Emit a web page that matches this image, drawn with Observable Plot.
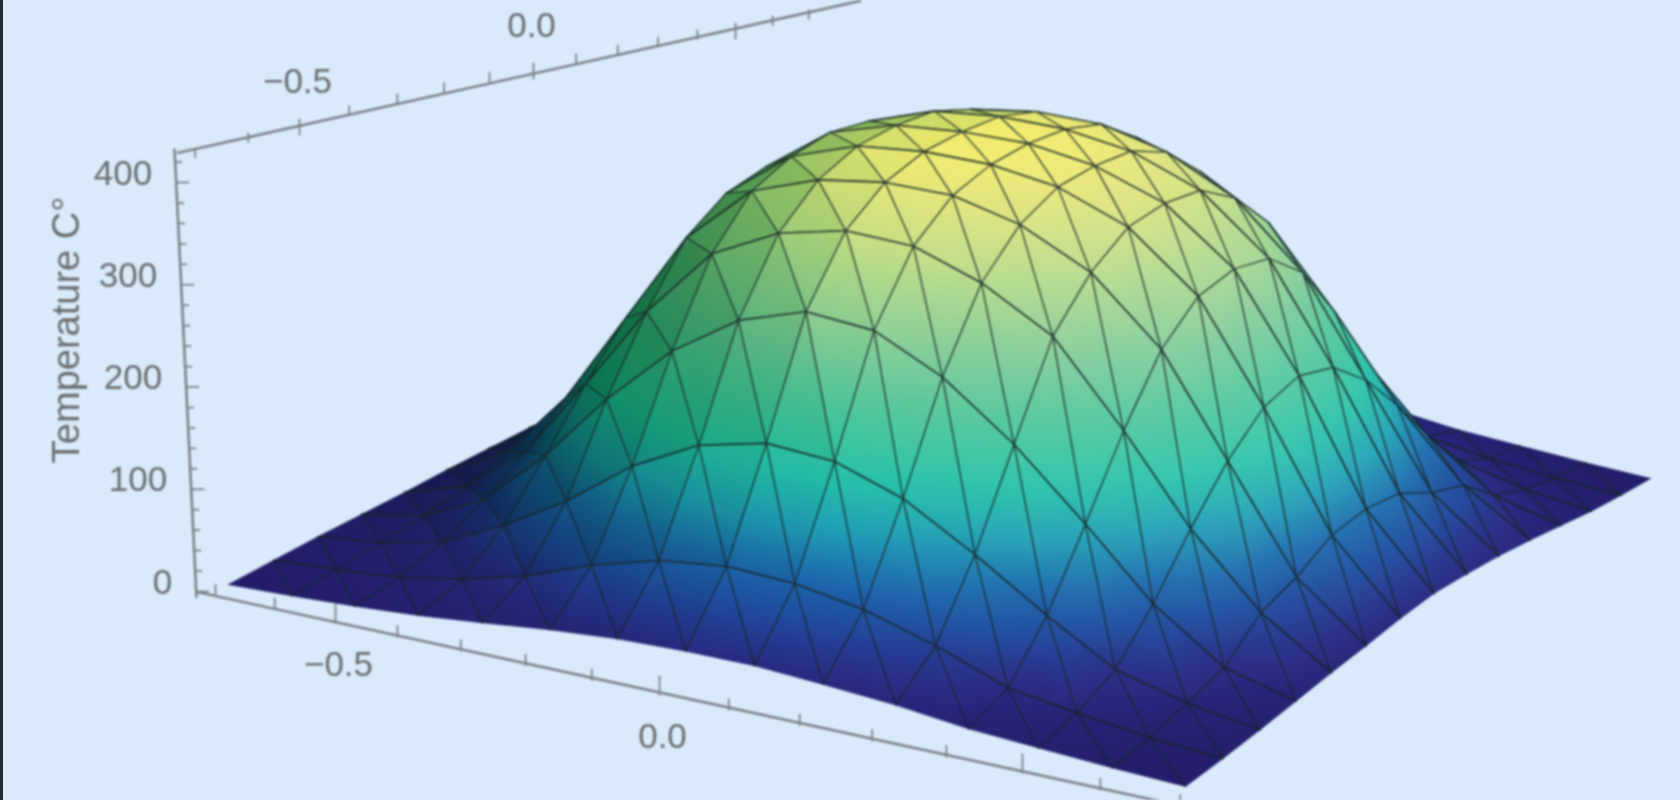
<!DOCTYPE html>
<html><head><meta charset="utf-8">
<script src="https://cdn.jsdelivr.net/npm/d3@7"></script>
<script src="https://cdn.jsdelivr.net/npm/@observablehq/plot@0.6"></script>
<style>
html,body{margin:0;padding:0;width:1680px;height:800px;overflow:hidden;background:#d9ebfa;box-shadow:inset 3px 0 0 #1d2b33}
</style></head><body><div id="chart"></div>
<script>
// Surface node positions and temperatures
const xNodes = [-0.7,-0.605,-0.51,-0.415,-0.32,-0.22,-0.12,-0.02,0.08,0.18,0.285,0.39,0.49,0.595,0.7];
const yNodes = [-0.7,-0.6,-0.5,-0.4,-0.3,-0.2,-0.1,0,0.1,0.2,0.3,0.4,0.5,0.6,0.7];
const temperature = [
 [0,2,5,9,15,22,27,29,29,25,20,12,8,4,1],
 [2,6,11,22,38,62,80,88,85,74,54,28,18,9,4],
 [4,11,24,53,89,136,169,184,180,158,119,75,37,19,8],
 [5,16,45,100,167,226,268,289,284,253,203,141,78,31,13],
 [6,25,72,150,232,300,332,347,345,323,286,210,129,62,18],
 [8,38,105,195,285,342,365,375,375,360,328,268,174,75,22],
 [9,44,128,226,310,358,380,387,387,378,353,300,206,95,27],
 [10,46,135,235,318,364,383,389,390,381,358,308,217,100,30],
 [9,44,128,226,310,358,380,387,387,378,353,300,206,95,28],
 [8,38,105,195,285,342,365,375,375,360,328,268,174,75,25],
 [6,25,72,150,232,300,332,347,345,323,286,210,129,62,20],
 [5,16,45,100,167,226,268,289,284,253,203,141,78,31,14],
 [4,10,22,48,80,122,152,165,162,142,107,67,33,17,8],
 [2,6,10,19,32,52,68,74,72,62,45,24,15,8,4],
 [0,2,5,9,15,22,27,29,29,25,20,12,8,4,1]
];
const xMajor = [-0.5,0,0.5];
const xMinor = [-0.7,-0.6,-0.4,-0.3,-0.2,-0.1,0.1,0.2,0.3,0.4,0.6,0.7];
const yMajor = [-0.5,0,0.5];
const yMinor = [-0.7,-0.6,-0.4,-0.3,-0.2,-0.1,0.1,0.2,0.3,0.4,0.6,0.7];
const zMajor = [0,100,200,300,400];
const zMinor = [20,40,60,80,120,140,160,180,220,240,260,280,320,340,360,380,420];
const colorT = [0,35,65,95,130,170,220,270,320,370,395];
const colorV = ["#241c69","#2a2c86","#1f4c9e","#1c6bae","#1f9eb5","#25c2a8","#4cc59a","#7fcb96","#aed88a","#e0e47a","#f7ee6a"];
const zTitle = "Temperature C°";
const minus = "\u2212";

// Camera: a perspective map of (x, y, z) fitted to the four corners of the surface
const half = 0.7;
const cL=[228,584], cF=[1185,787], cR=[1650,479], cB=[794,308];
const vanish=[950,16000], eZ=-6.4e-5;
const H=(()=>{const [x0,y0]=cL,[x1,y1]=cF,[x2,y2]=cR,[x3,y3]=cB;
 const dx1=x1-x2,dx2=x3-x2,sx=x0-x1+x2-x3,dy1=y1-y2,dy2=y3-y2,sy=y0-y1+y2-y3,det=dx1*dy2-dx2*dy1;
 const g=(sx*dy2-dx2*sy)/det,h=(dx1*sy-sx*dy1)/det;
 return {a:x1-x0+g*x1,b:x3-x0+h*x3,c:x0,d:y1-y0+g*y1,e:y3-y0+h*y3,f:y0,g,h};})();
function proj(x,y,z){
 const u=(x+half)/(2*half),v=(y+half)/(2*half);
 const X=H.a*u+H.b*v+H.c,Y=H.d*u+H.e*v+H.f,W=H.g*u+H.h*v+1;
 const k=eZ*z*(H.g*.5+H.h*.5+1);
 return [(X+k*vanish[0])/(W+k),(Y+k*vanish[1])/(W+k)];
}
const ramp=d3.scaleLinear().domain(colorT).range(colorV).clamp(true);
const light=(()=>{const l=[0.75,-0.2,0.6],n=Math.hypot(...l);return l.map(d=>d/n);})();
function shade(col,s,t){
 const f=0.62+0.68*s,c=d3.rgb(col);
 if(f<=1) return d3.rgb(c.r*Math.pow(f,1.7),c.g*Math.pow(f,.75),c.b*Math.pow(f,1.1)).formatRgb();
 const w=Math.min(.14,(f-1)*.35)*Math.min(1,t/200);
 return d3.rgb(c.r+(255-c.r)*w,c.g+(255-c.g)*w,c.b+(255-c.b)*w).formatRgb();
}

// Triangles of the mesh, back to front
const tris=[];
const n=xNodes.length;
for(let j=0;j<n-1;j++)for(let i=0;i<n-1;i++){
 tris.push([[i,j],[i+1,j],[i,j+1]]);
 tris.push([[i+1,j+1],[i,j+1],[i+1,j]]);
}
const node=([i,j])=>({x:xNodes[i],y:yNodes[j],t:temperature[j][i],i,j});
const depth=t=>d3.sum(t,([i,j])=>xNodes[i]-yNodes[j]);
tris.sort((a,b)=>depth(a)-depth(b));
// light on a node, from the slopes around it
function nodeLight(i,j){
 const i0=Math.max(0,i-1),i1=Math.min(n-1,i+1),j0=Math.max(0,j-1),j1=Math.min(n-1,j+1);
 const sl=.8/420;
 const dx=(temperature[j][i1]-temperature[j][i0])*sl/(xNodes[i1]-xNodes[i0]);
 const dy=(temperature[j1][i]-temperature[j0][i])*sl/(yNodes[j1]-yNodes[j0]);
 const m=Math.hypot(dx,dy,1);
 return (-dx*light[0]-dy*light[1]+light[2])/m;
}

const pts=[];
const defs=d3.create("svg:defs");
tris.forEach((tri,id)=>{
 const N=tri.map(node),P=N.map(d=>proj(d.x,d.y,d.t));
 const s=d3.mean(N,d=>nodeLight(d.i,d.j));
 const e1=[P[1][0]-P[0][0],P[1][1]-P[0][1]],e2=[P[2][0]-P[0][0],P[2][1]-P[0][1]];
 const d1=N[1].t-N[0].t,d2=N[2].t-N[0].t,D=e1[0]*e2[1]-e1[1]*e2[0];
 const gx=(d1*e2[1]-d2*e1[1])/D,gy=(e1[0]*d2-e2[0]*d1)/D,g2=gx*gx+gy*gy;
 const tmin=d3.min(N,d=>d.t),tmax=d3.max(N,d=>d.t);
 const lg=defs.append("svg:linearGradient").attr("id","g"+id).attr("gradientUnits","userSpaceOnUse");
 if(g2>1e-9&&tmax>tmin){
  lg.attr("x1",P[0][0]+gx*(tmin-N[0].t)/g2).attr("y1",P[0][1]+gy*(tmin-N[0].t)/g2)
    .attr("x2",P[0][0]+gx*(tmax-N[0].t)/g2).attr("y2",P[0][1]+gy*(tmax-N[0].t)/g2);
 }
 const ns=Math.max(2,Math.ceil((tmax-tmin)/20)+1);
 for(let k=0;k<ns;k++){
  const o=k/(ns-1),t=tmin+(tmax-tmin)*o;
  lg.append("svg:stop").attr("offset",o).attr("stop-color",shade(ramp(t),s,t));
 }
 const fill=`url(#g${id})`;
 [0,1,2,0].forEach(q=>pts.push({px:P[q][0],py:P[q][1],z:id+"f",fill,stroke:fill,w:0.7}));
 [[0,1],[1,2],[2,0]].forEach(([p,q],e)=>{
  const A=N[p],B=N[q];
  const border=(A.i===B.i&&(A.i===0||A.i===n-1))||(A.j===B.j&&(A.j===0||A.j===n-1));
  if(border) return;
  const alongX=A.j===B.j;
  [A,B].forEach((d,m)=>{const r=m?P[q]:P[p];pts.push({px:r[0],py:r[1],z:id+"e"+e,fill:"none",stroke:"rgba(24,38,40,0.85)",w:alongX?1.6:1.2});});
 });
});

// Axes: each one is a perspective ruler through three of its ticks as seen in the picture
function ruler(vals,pos){
 const [v0,,v2]=vals,[p0,p1,p2]=pos;
 const c=(2*p1-p0-p2)/(v2*p2+v0*p0);
 const a=(p2*(1+c*v2)-p1)/v2;
 return v=>(a*v+p1)/(c*v+1);
}
const vs=[-0.5,0,0.5];
const fx=ruler(vs,[335,659,1022]),fy=ruler(vs,[623,695,773]);
const tx=ruler(vs,[299,533,735]),ty=ruler(vs,[118,62,22]);
const zy=t=>591-1.0225*t, zx=t=>174+(zy(t)-148)*0.049;
const corner=-0.733, zBase=-6, zTop=433;
const link=(p,q)=>({x1:p[0],y1:p[1],x2:q[0],y2:q[1]});
const F=v=>[fx(v),fy(v)],T=v=>[tx(v),ty(v)],Z=t=>[zx(t),zy(t)];
const axes=[link(Z(zBase),Z(zTop)),link(F(corner),F(0.8)),link(T(corner),T(0.85))];
const up=(p,l)=>[p[0],p[1]-l], right=(p,l)=>[p[0]+l,p[1]];
const ticks=[
 ...xMajor.map(v=>link(F(v),up(F(v),20))),
 ...xMinor.map(v=>link(F(v),up(F(v),12))),
 ...yMajor.map(v=>link(T(v),up(T(v),-17))),
 ...yMinor.map(v=>link(T(v),up(T(v),-10))),
 ...zMajor.map(t=>link(Z(t),right(Z(t),13))),
 ...zMinor.map(t=>link(Z(t),right(Z(t),7)))
];
const label=v=>(v<0?minus:"")+Math.abs(v).toFixed(1);
const xLabels=xMajor.slice(0,2).map(v=>({x:fx(v),y:fy(v),t:label(v)}));
const yLabels=yMajor.slice(0,2).map(v=>({x:tx(v),y:ty(v),t:label(v)}));
const zLabels=zMajor.map(v=>({x:zx(v),y:zy(v),t:String(v)}));
const titlePos=[{x:zx(250),y:zy(250)}];

const font="Liberation Sans, Arial, sans-serif", fs=35, txt="#6a6e72";
const plot=Plot.plot({
 width:1680,height:800,margin:0,
 x:{domain:[0,1680],range:[0,1680],axis:null},
 y:{domain:[0,800],range:[0,800],axis:null},
 style:{background:"transparent",filter:"blur(1px)",display:"block"},
 marks:[
  ()=>defs.node(),
  Plot.link(axes,{x1:"x1",y1:"y1",x2:"x2",y2:"y2",stroke:"#7b8288",strokeWidth:2.6}),
  Plot.link(ticks,{x1:"x1",y1:"y1",x2:"x2",y2:"y2",stroke:"#7b8288",strokeWidth:1.8}),
  Plot.text(xLabels,{x:"x",y:"y",text:"t",dy:41,dx:3,fontSize:fs,fontFamily:font,fill:txt}),
  Plot.text(yLabels,{x:"x",y:"y",text:"t",dy:-37,dx:-2,fontSize:fs,fontFamily:font,fill:txt}),
  Plot.text(zLabels,{x:"x",y:"y",text:"t",dx:-24,dy:-9,textAnchor:"end",fontSize:fs,fontFamily:font,fill:txt}),
  Plot.text(titlePos,{x:"x",y:"y",text:()=>zTitle,dx:-117,dy:-6,rotate:-90,fontSize:38,fontFamily:font,fill:txt}),
  Plot.line(pts,{x:"px",y:"py",z:"z",fill:{value:"fill",scale:null},stroke:{value:"stroke",scale:null},strokeWidth:"w",strokeLinecap:"round"})
 ]
});
document.getElementById("chart").appendChild(plot);
</script></body></html>
